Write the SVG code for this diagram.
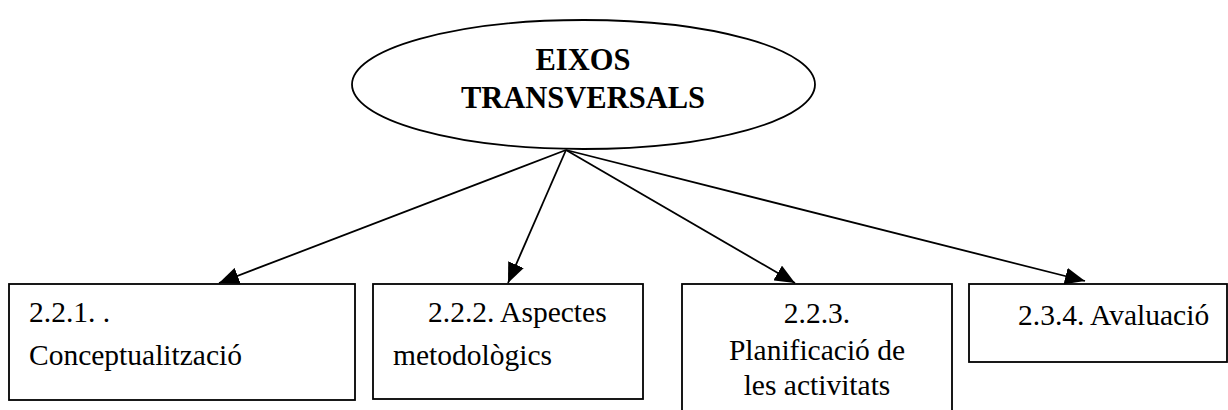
<svg xmlns="http://www.w3.org/2000/svg" width="1228" height="410" viewBox="0 0 1228 410">
<style>
.box{fill:#fff;stroke:#000;stroke-width:1.8}
.t{font-family:"Liberation Serif","Times New Roman",serif;font-size:29.5px;fill:#000}
.b{font-weight:bold;text-anchor:middle;font-size:30.5px}
.c{text-anchor:middle}
.con{stroke:#000;stroke-width:1.8;fill:none;marker-end:url(#ah)}
</style>
<defs>
<marker id="ah" markerUnits="userSpaceOnUse" markerWidth="20" markerHeight="17" refX="20" refY="8.5" orient="auto">
<path d="M0,0 L20,8.5 L0,17 z" fill="#000"/>
</marker>
</defs>
<rect width="1228" height="410" fill="#fff"/>
<g id="root">
<ellipse cx="583.5" cy="84.5" rx="231.5" ry="64.5" class="box"/>
<text class="t b" x="583" y="70">EIXOS</text>
<text class="t b" x="583" y="108">TRANSVERSALS</text>
</g>
<g id="n1">
<rect class="box" x="9" y="284" width="346" height="116"/>
<text class="t" x="29" y="322">2.2.1. .</text>
<text class="t" x="29" y="365">Conceptualització</text>
</g>
<g id="n2">
<rect class="box" x="373" y="284" width="270" height="115"/>
<text class="t" x="428" y="322">2.2.2. Aspectes</text>
<text class="t" x="393" y="365">metodològics</text>
</g>
<g id="n3">
<rect class="box" x="682" y="284" width="270" height="140"/>
<text class="t c" x="817" y="323">2.2.3.</text>
<text class="t c" x="817" y="360">Planificació de</text>
<text class="t c" x="817" y="395">les activitats</text>
</g>
<g id="n4">
<rect class="box" x="969" y="284" width="258" height="78"/>
<text class="t" x="1018" y="325">2.3.4. Avaluació</text>
</g>
<g id="connectors">
<line class="con" x1="566" y1="150" x2="219" y2="283"/>
<line class="con" x1="566" y1="150" x2="508" y2="283"/>
<line class="con" x1="566" y1="150" x2="795" y2="283"/>
<line class="con" x1="566" y1="150" x2="1085" y2="281"/>
</g>
</svg>
